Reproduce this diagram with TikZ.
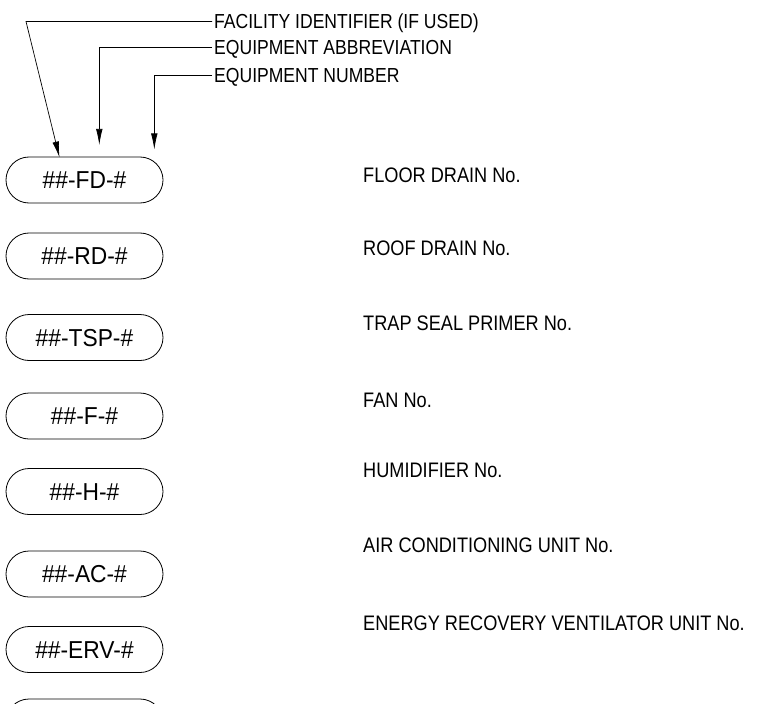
\documentclass[tikz,border=0pt]{standalone}
\usepackage{fontspec}
\setmainfont{Liberation Sans}[FakeStretch=0.865]
\newfontfamily\tagfont{Liberation Sans}[FakeStretch=0.93]
\usetikzlibrary{shapes.misc,arrows.meta}
\tikzset{
  tag/.style={draw, line width=0.8pt, rounded rectangle, minimum width=157pt, minimum height=46pt, inner sep=0pt,
    font=\tagfont\fontsize{24.5}{26}\selectfont, text height=17.5pt, text depth=0pt},
  desc/.style={anchor=base west, inner sep=0pt, font=\fontsize{21}{23}\selectfont},
  toplbl/.style={anchor=west, inner xsep=2pt, inner ysep=0pt, font=\fontsize{20.3}{22}\selectfont, text height=14.6pt, text depth=0pt},
  lead/.style={line width=0.7pt, -{Latex[length=16pt,width=6.5pt]}}
}
\begin{document}
\begin{tikzpicture}[x=1pt,y=-1pt]
\useasboundingbox (0,0) rectangle (759,703);
% equipment tags
\node[tag] (fd)  at (84.5,180)   {\#\#-FD-\#};
\node[tag] (rd)  at (84.5,256)   {\#\#-RD-\#};
\node[tag] (tsp) at (84.5,337.5) {\#\#-TSP-\#};
\node[tag] (f)   at (84.5,416)   {\#\#-F-\#};
\node[tag] (h)   at (84.5,491.5) {\#\#-H-\#};
\node[tag] (ac)  at (84.5,574)   {\#\#-AC-\#};
\node[tag] (erv) at (84.5,649.5) {\#\#-ERV-\#};
\node[tag] (nxt) at (84.5,722)   {};
% descriptions
\node[desc] (dfd)  at (363,182.3) {FLOOR DRAIN No.};
\node[desc] (drd)  at (363,255)   {ROOF DRAIN No.};
\node[desc] (dtsp) at (363,330)   {TRAP SEAL PRIMER No.};
\node[desc] (df)   at (363,407.7) {FAN No.};
\node[desc] (dh)   at (363,477.3) {HUMIDIFIER No.};
\node[desc] (dac)  at (363,552.7) {AIR CONDITIONING UNIT No.};
\node[desc] (derv) at (363,630)   {ENERGY RECOVERY VENTILATOR UNIT No.};
% top legend labels
\node[toplbl] (lfac) at (212,21.5) {FACILITY IDENTIFIER (IF USED)};
\node[toplbl] (labb) at (212,47.5) {EQUIPMENT ABBREVIATION};
\node[toplbl] (lnum) at (212,75.5) {EQUIPMENT NUMBER};
% leader end points
\coordinate (k1) at (26,21.5);
\coordinate (t1) at (59.5,157.5);
\coordinate (t2) at (99.3,145);
\coordinate (t3) at (154.3,149.5);
\draw[lead] (lfac.west) -- (k1) -- (t1);
\draw[lead] (labb.west) -| (t2);
\draw[lead] (lnum.west) -| (t3);
\end{tikzpicture}
\end{document}
